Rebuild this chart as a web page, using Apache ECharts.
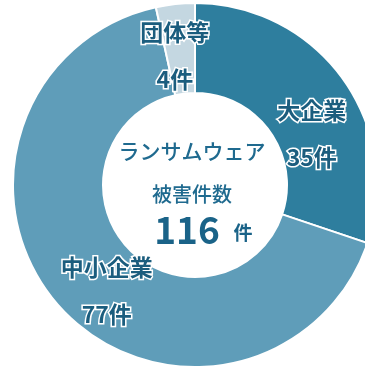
<!DOCTYPE html>
<html><head><meta charset="utf-8">
<script src="https://cdn.jsdelivr.net/npm/echarts@6/dist/echarts.min.js"></script>
<style>html,body{margin:0;padding:0;background:#fff}#c{width:365px;height:368px}</style>
</head><body><div id="c"></div>
<script>
const categories = ['大企業', '中小企業', '団体等'];
const counts = [35, 77, 4];
const unit = '件';
const centerTitle = 'ランサムウェア';
const centerSub = '被害件数';
const sliceColors = ['#2E7E9E', '#5F9DB9', '#C4D7E1'];
const labelShift = [[3, 30], [16, 12], [-5, 10]];

const total = counts.reduce((a, b) => a + b, 0);
const font = '"Noto Sans CJK JP", "Noto Sans", sans-serif';
const chart = echarts.init(document.getElementById('c'), null, {renderer: 'canvas'});
const richStyle = {fontSize: 23, fontWeight: 'bold', color: '#1B5D7E', fontFamily: font,
  textBorderColor: '#fff', textBorderWidth: 3, lineHeight: 47, align: 'center'};
chart.setOption({
  animation: false,
  series: [{
    type: 'pie',
    center: [195, 185],
    radius: [92, 182],
    startAngle: 90,
    clockwise: true,
    itemStyle: {borderColor: '#fff', borderWidth: 2},
    label: {
      show: true,
      position: 'inside',
      formatter: p => '{n|' + p.name + '}\n{v|' + p.value + unit + '}',
      rich: {n: richStyle, v: richStyle}
    },
    labelLine: {show: false},
    labelLayout: p => ({dx: labelShift[p.dataIndex][0], dy: labelShift[p.dataIndex][1]}),
    emphasis: {disabled: true},
    data: categories.map((c, i) => ({name: c, value: counts[i], itemStyle: {color: sliceColors[i]}}))
  }],
  graphic: [
    {type: 'text', x: 192, y: 151, style: {text: centerTitle, fill: '#1F6A8F', font: '500 21px ' + font, textAlign: 'center', textVerticalAlign: 'middle'}},
    {type: 'text', x: 192, y: 194, style: {text: centerSub, fill: '#1F6A8F', font: '500 20px ' + font, textAlign: 'center', textVerticalAlign: 'middle'}},
    {type: 'text', x: 187, y: 230, style: {text: String(total), fill: '#1A6388', font: 'bold 37px ' + font, textAlign: 'center', textVerticalAlign: 'middle'}},
    {type: 'text', x: 243, y: 233, style: {text: unit, fill: '#1A6388', font: 'bold 19px ' + font, textAlign: 'center', textVerticalAlign: 'middle'}}
  ]
});
</script></body></html>
